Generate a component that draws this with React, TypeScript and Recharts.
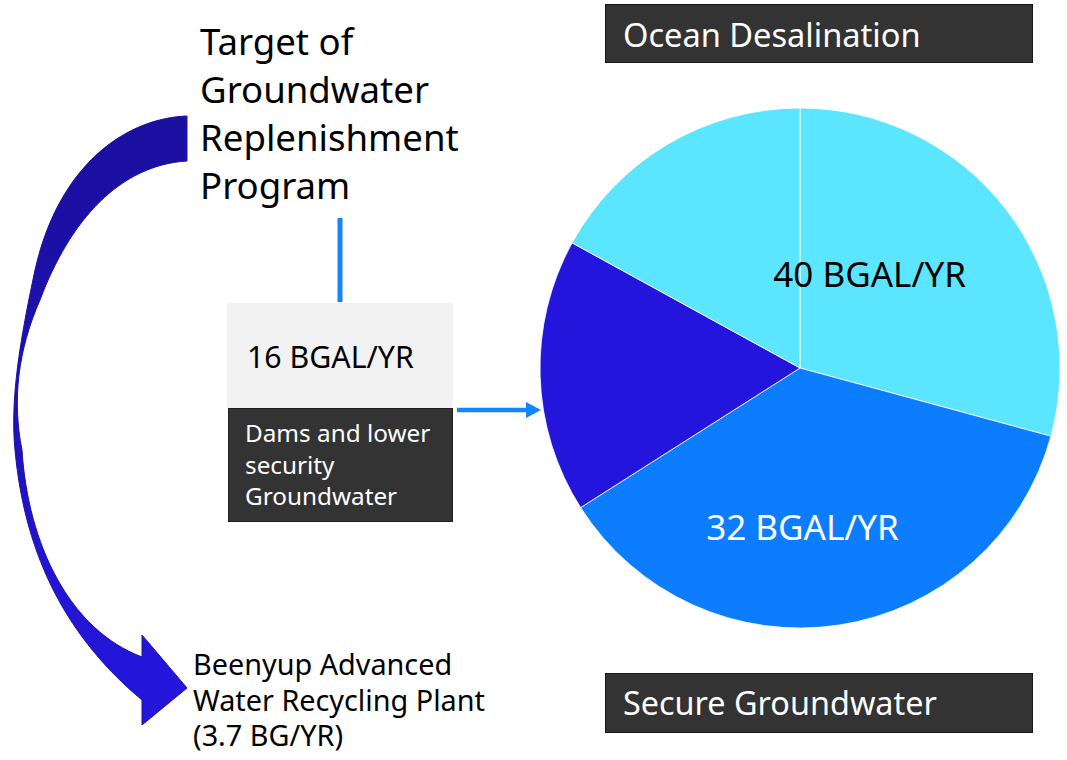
import React from "react";
import { PieChart, Pie, Cell } from "recharts";

// slice values (two cyan slices make up the 40 BGAL/YR desal share)
const sliceNames = [
  "Ocean Desalination (a)",
  "Secure Groundwater",
  "Dams and lower security Groundwater",
  "Ocean Desalination (b)",
];
const sliceValues = [25.6, 32.2, 14.9, 14.9];
const sliceColors = ["#5ce5ff", "#0d7dff", "#2315db", "#5ce5ff"];
const sliceLabels = ["40 BGAL/YR", "32 BGAL/YR", "", ""];
const labelColors = ["#000000", "#ffffff", "#ffffff", "#000000"];

const titleLines = ["Target of", "Groundwater", "Replenishment", "Program"];
const damsValue = "16 BGAL/YR";
const damsLines = ["Dams and lower", "security", "Groundwater"];
const plantLines = ["Beenyup Advanced", "Water Recycling Plant", "(3.7 BG/YR)"];
const topBoxText = "Ocean Desalination";
const bottomBoxText = "Secure Groundwater";

const FONT = "'Noto Sans', 'Open Sans', sans-serif";
const RAD = Math.PI / 180;

function renderLabel(p: any) {
  const { cx, cy, midAngle, outerRadius, index } = p;
  const text = sliceLabels[index];
  if (!text) return <g />;
  // nudge from the slice's mid angle to where the reference puts the text
  const shift = index === 0 ? 11.8 : -7.8;
  const k = index === 0 ? 0.41 : 0.66;
  const a = (midAngle + shift) * RAD;
  const x = cx + outerRadius * k * Math.cos(a);
  const y = cy - outerRadius * k * Math.sin(a);
  return (
    <text x={x} y={y} textAnchor="middle" fill={labelColors[index]} fontSize={35} fontFamily={FONT}>
      {text}
    </text>
  );
}

function Decorations() {
  return (
    <svg width={1067} height={760} style={{ position: "absolute", left: 0, top: 0 }}>
      <defs>
        <linearGradient id="curveFill" x1="0" y1="0" x2="0" y2="1">
          <stop offset="0%" stopColor="#1a0f9f" />
          <stop offset="45%" stopColor="#1d11ae" />
          <stop offset="75%" stopColor="#2314d6" />
          <stop offset="100%" stopColor="#2416db" />
        </linearGradient>
      </defs>

      {/* curved arrow down to the recycling plant */}
      <path
        d="M187,116 C130,118 60,160 35,270 C20,340 10,400 15,450 C25,560 70,640 142,700 L142,725 L187,688 L142,635 L142,657 C70,630 28,545 22,450 C12,400 18,350 40,300 C70,220 120,165 187,161 Z"
        fill="url(#curveFill)"
        stroke="#1c12a6"
        strokeWidth={1}
      />

      {/* title */}
      {titleLines.map((t, i) => (
        <text key={t} x={200} y={55 + i * 48} fontSize={36.6} fontFamily={FONT} fill="#000">
          {t}
        </text>
      ))}

      {/* connector lines */}
      <line x1={340} y1={218} x2={340} y2={302} stroke="#1584ff" strokeWidth={5} />
      <line x1={457} y1={410} x2={528} y2={410} stroke="#1584ff" strokeWidth={4.5} />
      <polygon points="526,402 541,410 526,418" fill="#1584ff" />

      {/* dams boxes */}
      <rect x={227} y={303} width={226} height={105} fill="#f2f2f2" />
      <text x={247} y={368} fontSize={30.3} fontFamily={FONT} fill="#000">
        {damsValue}
      </text>
      <rect x={228.5} y={408.5} width={224} height={113} fill="#333333" stroke="#1e1e1e" strokeWidth={1} />
      {damsLines.map((t, i) => (
        <text key={t} x={245} y={442 + i * 31.5} fontSize={24.3} fontFamily={FONT} fill="#fff">
          {t}
        </text>
      ))}

      {/* plant label */}
      {plantLines.map((t, i) => (
        <text key={t} x={193} y={675 + i * 35.5} fontSize={28.8} fontFamily={FONT} fill="#000">
          {t}
        </text>
      ))}

      {/* top / bottom legend boxes */}
      <rect x={605.5} y={4.5} width={427} height={58} fill="#333333" stroke="#151515" strokeWidth={1} />
      <text x={623} y={47} fontSize={32.6} fontFamily={FONT} fill="#fff">
        {topBoxText}
      </text>
      <rect x={605.5} y={673.5} width={427} height={59} fill="#333333" stroke="#151515" strokeWidth={1} />
      <text x={623} y={715} fontSize={32.4} fontFamily={FONT} fill="#fff">
        {bottomBoxText}
      </text>
    </svg>
  );
}

export default function App() {
  const data = sliceNames.map((name, i) => ({ name, value: sliceValues[i] }));
  return (
    <div style={{ position: "absolute", left: 0, top: 0, width: 1067, height: 760, background: "#fff", fontFamily: FONT }}>
      <Decorations />
      <div style={{ position: "absolute", left: 0, top: 0 }}>
        <PieChart width={1067} height={760} margin={{ top: 0, right: 0, bottom: 0, left: 0 }}>
          <Pie
            data={data}
            dataKey="value"
            nameKey="name"
            cx={800}
            cy={368}
            outerRadius={260}
            startAngle={90}
            endAngle={-270}
            stroke="#ffffff"
            strokeWidth={0.8}
            label={renderLabel}
            labelLine={false}
            isAnimationActive={false}
          >
            {data.map((d, i) => (
              <Cell key={d.name} fill={sliceColors[i]} />
            ))}
          </Pie>
        </PieChart>
      </div>
    </div>
  );
}
